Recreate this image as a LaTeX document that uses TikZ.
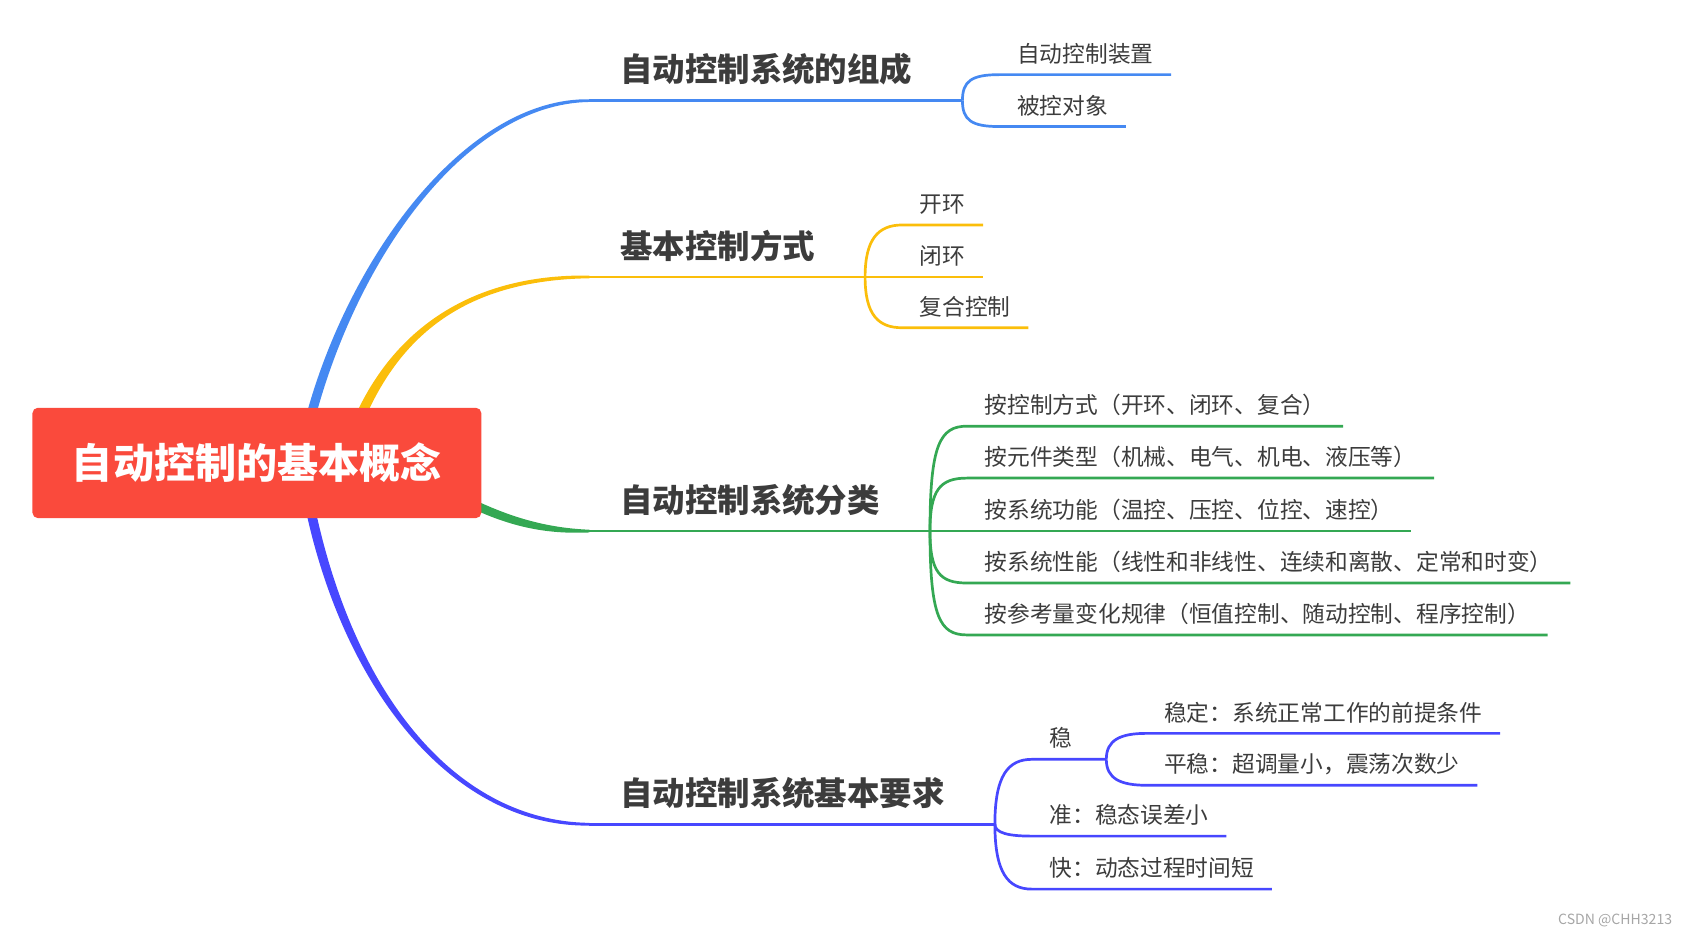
\documentclass[tikz,border=0pt]{standalone}
\usepackage{fontspec}
\setmainfont{Noto Sans CJK SC}
\usetikzlibrary{calc}

\definecolor{cBlue}{HTML}{4589F2}
\definecolor{cYellow}{HTML}{FBBE0A}
\definecolor{cGreen}{HTML}{34A853}
\definecolor{cViolet}{HTML}{4747FF}
\definecolor{cRoot}{HTML}{FA4A3C}
\definecolor{cText}{HTML}{3C3C3C}

% tapered main branch: colour, start, control 1, control 2, end, half width at start
\newcommand\taper[6]{%
  \fill[#1] ($(#2)-(#6)$) .. controls ($(#3)-(#6)$) and ($(#4)-(0,3)$) .. ($(#5)-(0,1.25)$)
    -- ($(#5)+(0,1.25)$) .. controls ($(#4)+(0,3)$) and ($(#3)+(#6)$) .. ($(#2)+(#6)$) -- cycle;}

\begin{document}
\begin{tikzpicture}[
  x=0.5pt, y=-0.5pt,
  root/.style={fill=cRoot, rounded corners=2.5pt, minimum width=207.5pt, minimum height=51pt,
    inner sep=0pt, text=white, font=\fontsize{19}{22}\selectfont\bfseries},
  topic/.style={anchor=south west, inner xsep=14pt, inner ysep=8.5pt, text depth=0pt,
    text=cText, font=\fontsize{15}{18}\selectfont\bfseries},
  leaf/.style={anchor=south west, inner xsep=8pt, inner ysep=5.5pt, text depth=0pt,
    text=cText, font=\fontsize{10.5}{13}\selectfont},
  stem/.style={line width=1.25pt}
]
\useasboundingbox (0,0) rectangle (1568,864);

% topics
\node[topic] (t1) at (545,93) {自动控制系统的组成};
\node[topic] (t2) at (545,256) {基本控制方式};
\node[topic] (t3) at (545,491) {自动控制系统分类};
\node[topic] (t4) at (545,762) {自动控制系统基本要求};

\coordinate (j1) at ([xshift=9pt]t1.south east);
\coordinate (j2) at ([xshift=9pt]t2.south east);
\coordinate (j3) at ([xshift=9pt]t3.south east);
\coordinate (j4) at ([xshift=9pt]t4.south east);

% main branches
\taper{cBlue}{286,390}{325,240}{430,93}{t1.south west}{4.5,0}
\taper{cYellow}{331,390}{365,310}{430,256}{t2.south west}{5,0}
\taper{cGreen}{425,460}{470,483}{505,491}{t3.south west}{0,4.5}
\taper{cViolet}{286,466}{322,640}{420,762}{t4.south west}{-4.5,0}

\node[root] (root) at (237.5,428) {自动控制的基本概念};

\draw[stem, cBlue] (t1.south west) -- (j1);
\draw[stem, cYellow] (t2.south west) -- (j2);
\draw[stem, cGreen] (t3.south west) -- (j3);
\draw[stem, cViolet] (t4.south west) -- (j4);

% composition
\node[leaf] (l11) at (924,69) {自动控制装置};
\node[leaf] (l12) at (924,117) {被控对象};
\draw[stem, cBlue] (j1) .. controls +(0,-18) and +(-26,0) .. (l11.south west) -- (l11.south east);
\draw[stem, cBlue] (j1) .. controls +(0,18) and +(-26,0) .. (l12.south west) -- (l12.south east);

% control modes
\node[leaf] (l21) at (834,208) {开环};
\node[leaf] (l22) at (834,256) {闭环};
\node[leaf] (l23) at (834,303) {复合控制};
\draw[stem, cYellow] (j2) .. controls +(0,-35) and +(-22,0) .. (l21.south west) -- (l21.south east);
\draw[stem, cYellow] (j2) -- (l22.south east);
\draw[stem, cYellow] (j2) .. controls +(0,35) and +(-22,0) .. (l23.south west) -- (l23.south east);

% classification
\node[leaf] (l31) at (894,394) {按控制方式（开环、闭环、复合）};
\node[leaf] (l32) at (894,442) {按元件类型（机械、电气、机电、液压等）};
\node[leaf] (l33) at (894,491) {按系统功能（温控、压控、位控、速控）};
\node[leaf] (l34) at (894,539) {按系统性能（线性和非线性、连续和离散、定常和时变）};
\node[leaf] (l35) at (894,587) {按参考量变化规律（恒值控制、随动控制、程序控制）};
\draw[stem, cGreen] (j3) .. controls +(0,-80) and +(-25,0) .. (l31.south west) -- (l31.south east);
\draw[stem, cGreen] (j3) .. controls +(0,-38) and +(-25,0) .. (l32.south west) -- (l32.south east);
\draw[stem, cGreen] (j3) -- (l33.south east);
\draw[stem, cGreen] (j3) .. controls +(0,38) and +(-25,0) .. (l34.south west) -- (l34.south east);
\draw[stem, cGreen] (j3) .. controls +(0,80) and +(-25,0) .. (l35.south west) -- (l35.south east);

% requirements
\node[leaf] (s1) at (954,702) {稳};
\coordinate (js) at ([xshift=7.5pt]s1.south east);
\node[leaf] (s11) at (1060,678) {稳定：系统正常工作的前提条件};
\node[leaf] (s12) at (1060,726) {平稳：超调量小，震荡次数少};
\node[leaf] (s2) at (954,773) {准：稳态误差小};
\node[leaf] (s3) at (954,822) {快：动态过程时间短};
\draw[stem, cViolet] (j4) .. controls +(0,-45) and +(-22,0) .. (s1.south west) -- (js);
\draw[stem, cViolet] (js) .. controls +(0,-18) and +(-24,0) .. (s11.south west) -- (s11.south east);
\draw[stem, cViolet] (js) .. controls +(0,18) and +(-24,0) .. (s12.south west) -- (s12.south east);
\draw[stem, cViolet] (j4) .. controls +(0,8) and +(-22,0) .. (s2.south west) -- (s2.south east);
\draw[stem, cViolet] (j4) .. controls +(0,45) and +(-22,0) .. (s3.south west) -- (s3.south east);

\node[anchor=east, text=gray!70, font=\fontsize{6.5}{8}\selectfont] (wm) at (1553,851) {CSDN @CHH3213};
\end{tikzpicture}
\end{document}
